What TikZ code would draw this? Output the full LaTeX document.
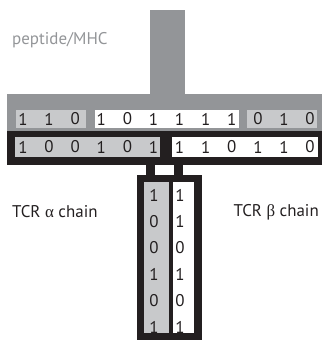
\documentclass[tikz,border=0pt]{standalone}
\usepackage{fontspec}
\setmainfont{PT Sans}
\newfontfamily\greekfont{Liberation Serif}
\definecolor{mhcgray}{HTML}{939598}
\definecolor{lightbox}{HTML}{C8C9CB}
\definecolor{darkbar}{HTML}{231F20}
\begin{document}
\begin{tikzpicture}[x=1bp,y=-1bp,
  lbl/.style={font=\fontsize{17}{20}\selectfont, inner sep=0pt, text=darkbar},
  digit/.style={font=\fontsize{17}{20}\selectfont, inner sep=0pt, text=darkbar},
  mhc/.style={fill=mhcgray},
  bar/.style={fill=darkbar},
  greybox/.style={fill=lightbox},
  whitebox/.style={fill=white}]
\useasboundingbox (0,0) rectangle (322,340);
% peptide/MHC
\path[mhc] (150,10) rectangle (185,95);
\path[mhc] (7,94) rectangle (322,130.5);
\path[greybox] (16,110) rectangle (86,127.5);
\path[whitebox] (95,110) rectangle (239,127.5);
\path[greybox] (247,110) rectangle (317,127.5);
% TCR bar
\path[bar] (7,130.5) rectangle (322,165);
\path[greybox] (15,137) rectangle (160,157);
\path[whitebox] (172,137) rectangle (318,157);
% stubs
\path[bar] (146,164) rectangle (155,176);
\path[bar] (174,164) rectangle (183,176);
% vertical
\path[bar] (137,175) rectangle (202,340);
\path[greybox] (144,182) rectangle (169,333);
\path[whitebox] (173,182) rectangle (194,333);
% digits row 1
\foreach \d [count=\i from 0] in {1,1,0,1,0,1,1,1,1,0,1,0}
  \node[digit] (ra\i) at (23+26.1*\i,119) {\d};
\foreach \d [count=\i from 0] in {1,0,0,1,0,1,1,1,0,1,1,0}
  \node[digit] (rb\i) at (23+26.1*\i,147) {\d};
\foreach \d [count=\i from 0] in {1,0,0,1,0,1}
  \node[digit] (ca\i) at (154,195+26.5*\i) {\d};
\foreach \d [count=\i from 0] in {1,1,0,1,0,1}
  \node[digit] (cb\i) at (180,195+26.5*\i) {\d};
% labels
\node[lbl, text=mhcgray, anchor=west] (pmhc) at (12,40) {peptide/MHC};
\node[lbl, anchor=west] (tcra) at (12,212) {TCR {\greekfont α} chain};
\node[lbl, anchor=east] (tcrb) at (319,212) {TCR {\greekfont β} chain};
\end{tikzpicture}
\end{document}
